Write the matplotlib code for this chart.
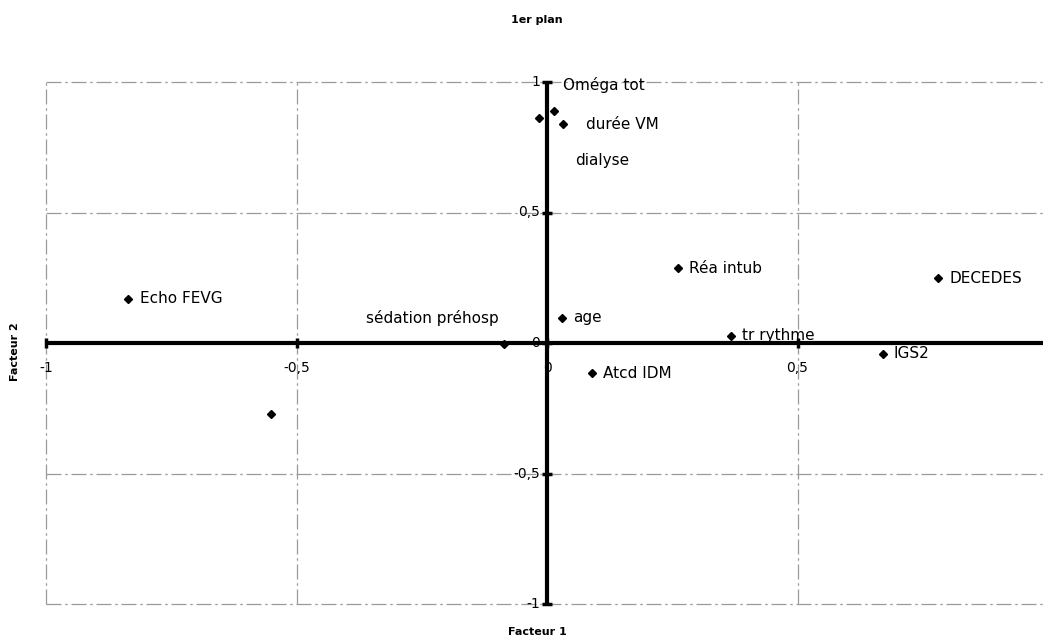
import matplotlib
matplotlib.use('Agg')
import matplotlib.pyplot as plt

# data (factor 1 / factor 2 coordinates)
labels = ['Oméga tot', 'durée VM', 'dialyse', 'Echo FEVG', '', 'sédation préhosp',
          'age', 'Atcd IDM', 'Réa intub', 'tr rythme', 'IGS2', 'DECEDES']
fact1 = [0.014, 0.032, -0.016, -0.837, -0.551, -0.085,
         0.030, 0.089, 0.262, 0.368, 0.670, 0.781]
fact2 = [0.889, 0.839, 0.863, 0.169, -0.272, -0.004,
         0.096, -0.115, 0.287, 0.027, -0.042, 0.249]

x_ticks = [-1, -0.5, 0, 0.5]
y_ticks = [-1, -0.5, 0, 0.5, 1]

# label placement (pixels from the marker), kept apart from the data
label_offsets = [(9, 26), (23, 0), (36, -43), (12, 0), (0, 0), (-6, 26),
                 (11, 0), (11, 0), (11, 0), (11, 0), (11, 0), (11, 0)]
label_ha = ['left'] * 5 + ['right'] + ['left'] * 6


def fmt(v):
    return ('%g' % v).replace('.', ',')


plt.rcParams['font.family'] = ['DejaVu Sans']

fig = plt.figure(figsize=(10.43, 6.42), dpi=100)
ax = fig.add_axes([46 / 1043, 38 / 642, 997 / 1043, 522 / 642])
ax.set_xlim(-1, 0.99)
ax.set_ylim(-1, 1)
ax.axis('off')

# dashed grid (scanned look)
grid_kw = dict(color='#9a9a9a', lw=0.9, ls=(0, (12, 3, 2, 3)), zorder=1, clip_on=False)
for t in x_ticks:
    if t != 0:
        ax.axvline(t, **grid_kw)
for t in y_ticks:
    if t != 0:
        ax.axhline(t, **grid_kw)

# thick axes through the origin
ax.axhline(0, color='black', lw=3, zorder=2)
ax.axvline(0, color='black', lw=3, zorder=2)
ax.plot(x_ticks, [0] * len(x_ticks), ls='none', marker='|', ms=7, mew=2.5, color='black',
        zorder=2, clip_on=False)
ax.plot([0] * len(y_ticks), y_ticks, ls='none', marker='_', ms=7, mew=2.5, color='black',
        zorder=2, clip_on=False)

# tick labels next to the axes (Excel style)
for t in x_ticks:
    ax.annotate(fmt(t), (t, 0), xytext=(0, -25), textcoords='offset pixels',
                ha='center', va='center', fontsize=10, zorder=3)
for t in y_ticks:
    ax.annotate(fmt(t), (0, t), xytext=(-7, 0), textcoords='offset pixels',
                ha='right', va='center', fontsize=10, zorder=3)

ax.plot(fact1, fact2, ls='none', marker='D', ms=4, color='black', zorder=4)
for lab, x, y, off, ha in zip(labels, fact1, fact2, label_offsets, label_ha):
    if lab:
        ax.annotate(lab, (x, y), xytext=off, textcoords='offset pixels',
                    ha=ha, va='center', fontsize=11, zorder=5)

fig.text(537 / 1043, 1 - 20 / 642, '1er plan', ha='center', va='center', fontsize=8, fontweight='bold')
fig.text(537 / 1043, 1 - 632 / 642, 'Facteur 1', ha='center', va='center', fontsize=8, fontweight='bold')
fig.text(15 / 1043, 1 - 352 / 642, 'Facteur 2', ha='center', va='center', fontsize=8,
         fontweight='bold', rotation=90)

fig.savefig('out.png', dpi=100)
